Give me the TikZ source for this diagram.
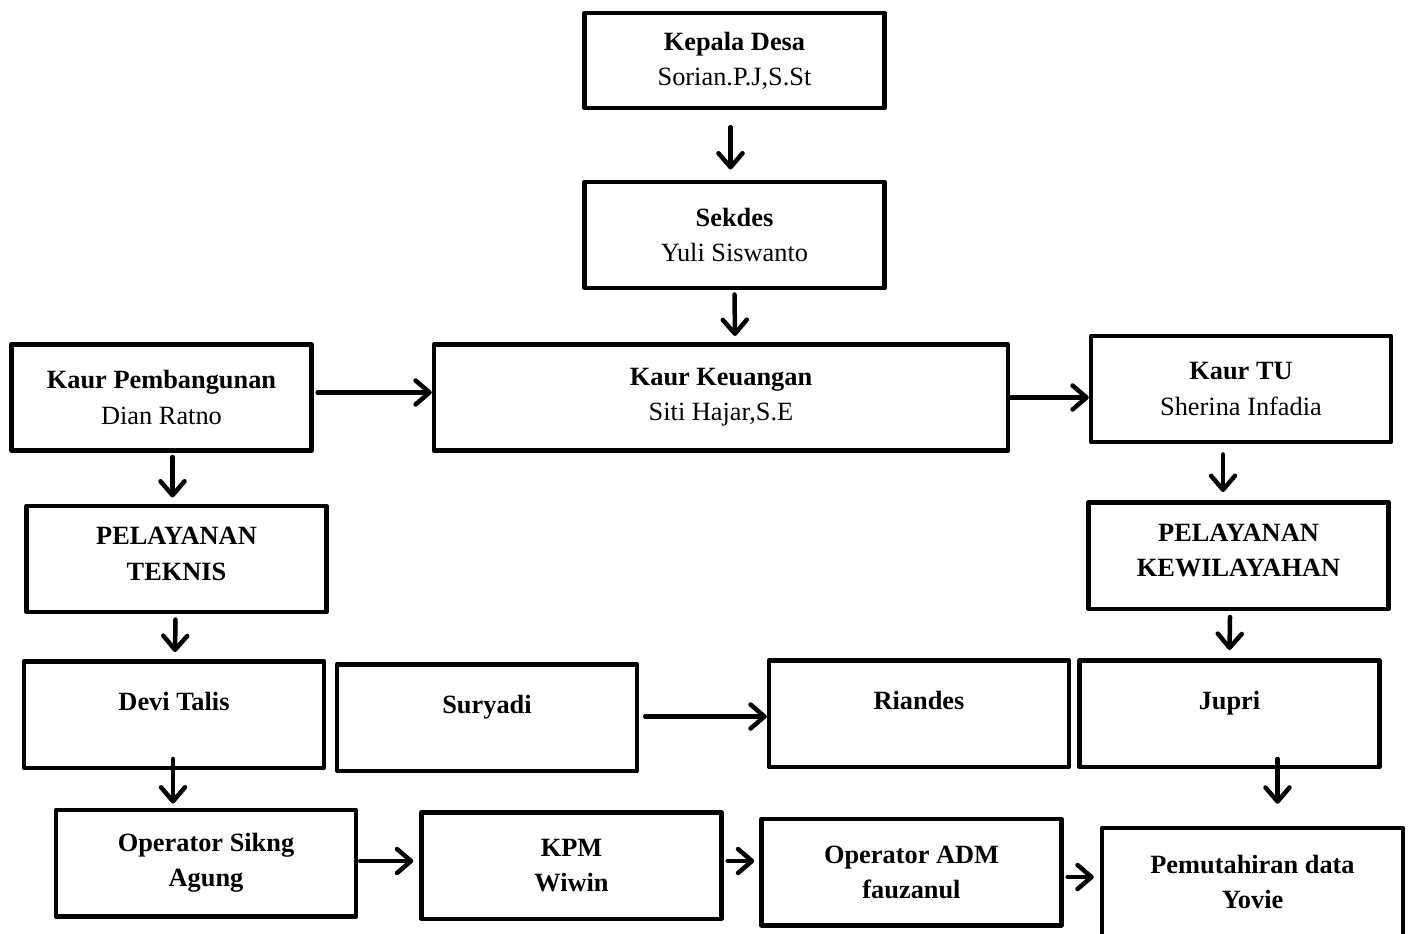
\documentclass[tikz,border=0pt]{standalone}
\usepackage{fontspec}
\setmainfont{Liberation Serif}
\usepackage{tikz}
\usetikzlibrary{arrows.meta,calc,positioning}

\begin{document}
\begin{tikzpicture}[x=0.02cm,y=-0.02cm,
  box/.style={draw,line width=0.09cm,line join=round,minimum width=6cm,minimum height=2.13cm,
    inner sep=0pt,align=center,font=\fontsize{15}{20}\selectfont},
  arr/.style={line width=0.09cm,line cap=round,-{Straight Barb[length=0.28cm,width=0.48cm,line join=round,line cap=round]}}]
\path[use as bounding box] (0,0) rectangle (1412,933);
\clip (0,0) rectangle (1412,933);
\node[box,minimum height=1.9cm] (kepala) at (734.5,60.5) {\textbf{Kepala Desa}\\Sorian.P.J,S.St};
\node[box] (sekdes) at (734.5,235) {\textbf{Sekdes}\\Yuli Siswanto};
\node[box] (pemb) at (161.5,397.5) {\textbf{Kaur Pembangunan}\\Dian Ratno};
\node[box,minimum width=11.48cm] (keu) at (721,397.5) {\textbf{Kaur Keuangan}\\Siti Hajar,S.E};
\node[box] (tu) at (1241,389) {\textbf{Kaur TU}\\Sherina Infadia};
\node[box] (teknis) at (176.5,559) {\textbf{PELAYANAN}\\\textbf{TEKNIS}\\[-14pt]~};
\node[box] (wilayah) at (1238.5,555.5) {\textbf{PELAYANAN}\\\textbf{KEWILAYAHAN}\\[-14pt]~};
\node[box] (devi) at (174,714.5) {\textbf{Devi Talis}\\[-5pt]~};
\node[box] (suryadi) at (487,717.5) {\textbf{Suryadi}\\[-5pt]~};
\node[box] (riandes) at (919,713.5) {\textbf{Riandes}\\[-5pt]~};
\node[box] (jupri) at (1229.5,713.5) {\textbf{Jupri}\\[-5pt]~};
\node[box] (sikng) at (206,863) {\textbf{Operator Sikng}\\\textbf{Agung}};
\node[box] (kpm) at (571.5,865.5) {\textbf{KPM}\\\textbf{Wiwin}};
\node[box] (adm) at (911.5,872) {\textbf{Operator ADM}\\\textbf{fauzanul}};
\node[box,minimum width=6.02cm,minimum height=2.16cm] (mutakhir) at (1252.5,882) {\textbf{Pemutahiran data}\\\textbf{Yovie}};

\draw[arr] ($(kepala.south)+(-4,17)$) -- ($(sekdes.north)+(-4,-10)$);
\draw[arr] ($(sekdes.south)+(0,4)$) -- ($(keu.north)+(14,-6)$);
\draw[arr] ($(pemb.east)+(4,-5)$) -- ($(keu.west)+(0,-5)$);
\draw[arr] (keu.east) -- (keu.east -| tu.west);
\draw[arr] ($(pemb.south)+(11,4)$) -- ($(teknis.north)+(-4,-6)$);
\draw[arr] ($(tu.south)+(-18,10)$) -- ($(wilayah.north)+(-15.5,-8)$);
\draw[arr] ($(teknis.south)+(-1,5)$) -- ($(devi.north)+(1,-7)$);
\draw[arr] ($(wilayah.south)+(-8.5,6)$) -- ($(jupri.north)+(0,-8)$);
\draw[arr] ($(suryadi.east)+(6,-1)$) -- ($(riandes.west)+(0,3)$);
\draw[arr] ($(devi.south)+(-1,-11)$) -- ($(sikng.north)+(-33,-4)$);
\draw[arr] ($(jupri.south)+(48,-10)$) -- ($(mutakhir.north)+(25,-22)$);
\draw[arr] ($(sikng.east)+(2,-2)$) -- ($(kpm.west)+(-6,-4.5)$);
\draw[arr] ($(kpm.east)+(4,-4.5)$) -- ($(adm.west)+(-5,-11)$);
\draw[arr] ($(adm.east)+(4,5)$) -- ($(mutakhir.west)+(-6,-5)$);
\end{tikzpicture}
\end{document}
